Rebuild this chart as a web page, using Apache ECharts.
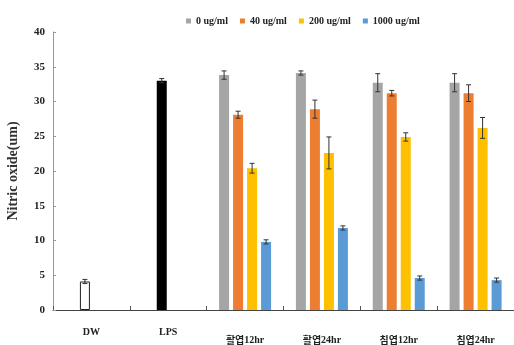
<!DOCTYPE html>
<html>
<head>
<meta charset="utf-8">
<script src="https://cdn.jsdelivr.net/npm/echarts@6/dist/echarts.min.js"></script>
<style>html,body{margin:0;padding:0;background:#fff}#c{width:514px;height:345px}</style>
</head>
<body>
<div id="c"></div>
<script>
var categories = ['DW', 'LPS', '활엽12hr', '활엽24hr', '침엽12hr', '침엽24hr'];
var seriesNames = ['0 ug/ml', '40 ug/ml', '200 ug/ml', '1000 ug/ml'];
var ctrlValues = [4.1, 33.0, null, null, null, null];
var ctrlErr = [0.3, 0.3, null, null, null, null];
var v0 = [null, null, 33.8, 34.1, 32.7, 32.7];
var e0 = [null, null, 0.6, 0.3, 1.3, 1.3];
var v40 = [null, null, 28.1, 28.9, 31.2, 31.2];
var e40 = [null, null, 0.5, 1.3, 0.4, 1.2];
var v200 = [null, null, 20.4, 22.6, 24.9, 26.2];
var e200 = [null, null, 0.7, 2.3, 0.6, 1.5];
var v1000 = [null, null, 9.8, 11.8, 4.6, 4.3];
var e1000 = [null, null, 0.3, 0.3, 0.3, 0.3];
var yTicks = [0, 5, 10, 15, 20, 25, 30, 35, 40];

var colors = ['#a5a5a5', '#ed7d31', '#ffc000', '#5b9bd5'];
var values = [v0, v40, v200, v1000];
var errs = [e0, e40, e200, e1000];
var offsets = [-21, -7, 7, 21];
var serif = '"Liberation Serif", "Times New Roman", serif';
var kfont = '"Noto Sans CJK KR", sans-serif';

function errData(vals, es) {
  var out = [];
  for (var i = 0; i < vals.length; i++) {
    if (vals[i] != null) out.push([i, vals[i], es[i]]);
  }
  return out;
}
function errSeries(vals, es, off, axisIdx) {
  return {
    type: 'custom',
    xAxisIndex: axisIdx,
    data: errData(vals, es),
    z: 5,
    silent: true,
    renderItem: function (params, api) {
      var idx = api.value(0), v = api.value(1), e = api.value(2);
      var top = api.coord([idx, v + e]);
      var bot = api.coord([idx, v - e]);
      var x = top[0] + off;
      var st = { stroke: '#333', lineWidth: 1 };
      return {
        type: 'group',
        children: [
          { type: 'line', shape: { x1: x, y1: top[1], x2: x, y2: bot[1] }, style: st },
          { type: 'line', shape: { x1: x - 2.5, y1: top[1], x2: x + 2.5, y2: top[1] }, style: st },
          { type: 'line', shape: { x1: x - 2.5, y1: bot[1], x2: x + 2.5, y2: bot[1] }, style: st }
        ]
      };
    }
  };
}

var series = [];
values.forEach(function (vals, k) {
  series.push({
    name: seriesNames[k],
    type: 'bar',
    xAxisIndex: 0,
    data: vals,
    barWidth: 10,
    barGap: '40%',
    itemStyle: { color: colors[k] }
  });
});
series.push({
  name: 'ctrl',
  type: 'bar',
  xAxisIndex: 1,
  barWidth: 10,
  barGap: '30%',
  data: ctrlValues.map(function (v, i) {
    if (v == null) return null;
    return i === 0
      ? { value: v, itemStyle: { color: '#fff', borderColor: '#222', borderWidth: 1 } }
      : { value: v, itemStyle: { color: '#000' } };
  })
});
series.push({
  name: 'dummy',
  type: 'bar',
  xAxisIndex: 1,
  barWidth: 10,
  data: categories.map(function () { return null; })
});
values.forEach(function (vals, k) {
  series.push(errSeries(vals, errs[k], offsets[k], 0));
});
series.push(errSeries(ctrlValues, ctrlErr, -6.5, 1));

var chart = echarts.init(document.getElementById('c'), null, { renderer: 'canvas' });
chart.setOption({
  animation: false,
  backgroundColor: '#fff',
  legend: {
    data: seriesNames,
    top: 11,
    left: 181,
    icon: 'rect',
    itemWidth: 5,
    itemHeight: 5,
    itemGap: 12,
    textStyle: { fontFamily: serif, fontWeight: 'bold', fontSize: 10, color: '#222' }
  },
  grid: { left: 53, right: 0, top: 32, bottom: 35, containLabel: false, outerBoundsMode: 'none' },
  xAxis: [
    {
      type: 'category',
      data: categories,
      axisLine: { lineStyle: { color: '#444', width: 1 } },
      axisTick: { show: true, inside: true, length: 4, lineStyle: { color: '#555' } },
      axisLabel: {
        margin: 17,
        interval: 0,
        formatter: function (v, i) {
          if (i < 2) return '{a|' + v + '}';
          return '{k|' + v.slice(0, 2) + '}{h|' + v.slice(2) + '}';
        },
        rich: {
          a: { fontFamily: serif, fontWeight: 'bold', fontSize: 10, color: '#222' },
          k: { fontFamily: kfont, fontWeight: 'bold', fontSize: 10, color: '#222', padding: [8, 0, 0, 0] },
          h: { fontFamily: serif, fontWeight: 'bold', fontSize: 10, color: '#222', padding: [8, 0, 0, 0] }
        }
      }
    },
    {
      type: 'category',
      data: categories,
      position: 'bottom',
      show: false
    }
  ],
  yAxis: {
    type: 'value',
    min: 0,
    max: 40,
    interval: 5,
    name: 'Nitric oxide(um)',
    nameLocation: 'middle',
    nameGap: 33,
    nameRotate: 90,
    nameTextStyle: { fontFamily: serif, fontWeight: 'bold', fontSize: 14, color: '#333' },
    splitLine: { show: false },
    axisLine: { show: true, lineStyle: { color: '#999' } },
    axisTick: { show: true, inside: true, length: 3, lineStyle: { color: '#999' } },
    axisLabel: {
      fontFamily: serif, fontWeight: 'bold', fontSize: 11, color: '#222', margin: 8,
      formatter: function (v) { return yTicks.indexOf(v) >= 0 ? String(v) : ''; }
    }
  },
  series: series
});
</script>
</body>
</html>
